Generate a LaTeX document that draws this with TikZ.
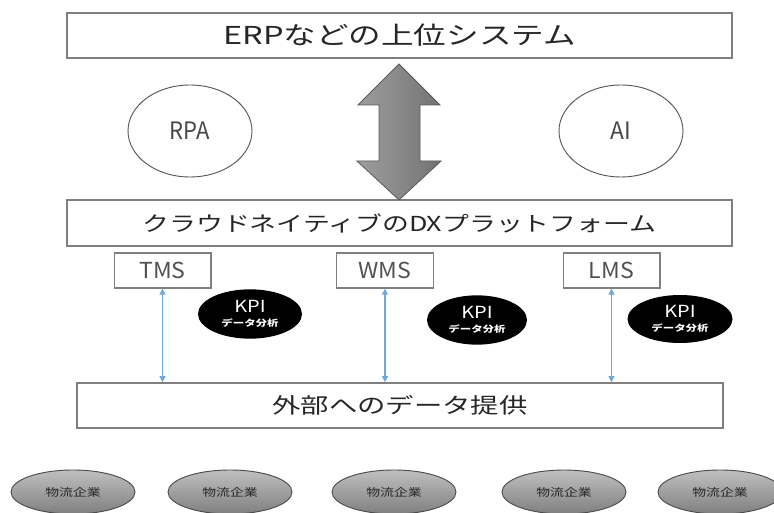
\documentclass[tikz,border=0pt]{standalone}
\usepackage{graphicx}
\usepackage{fontspec}
\setmainfont{Noto Sans CJK JP}
\usetikzlibrary{arrows.meta,shapes.geometric}
\definecolor{boxline}{HTML}{7F7F7F}
\definecolor{txt}{HTML}{262626}
\definecolor{linkblue}{HTML}{6FA8DC}
\newcommand{\sx}[2]{\scalebox{#1}[1]{#2}}
\tikzset{
  bigbox/.style={draw=boxline, line width=1.2pt, fill=white, inner sep=0pt, text=txt},
  sysbox/.style={draw=boxline, line width=1pt, fill=white, inner sep=0pt, minimum width=72.5pt, minimum height=26.25pt, text=txt!80, font=\fontsize{16.5}{16.5}\selectfont},
  toolell/.style={ellipse, draw=black!65, line width=0.7pt, fill=white, inner sep=0pt, minimum width=93pt, minimum height=69pt, text=txt!85, font=\fontsize{18}{18}\selectfont},
  kpiell/.style={ellipse, fill=black, inner sep=0pt, minimum height=37pt, text=white, align=center},
  firm/.style={ellipse, draw=black!70, line width=0.7pt, top color=black!25, bottom color=black!50, inner sep=0pt, minimum width=93pt, minimum height=33pt, text=txt, font=\fontsize{8}{8}\selectfont},
  link/.style={linkblue, line width=0.8pt, {Triangle[length=4.5pt,width=4.5pt]}-{Triangle[length=4.5pt,width=4.5pt]}}
}
\begin{document}
\begin{tikzpicture}[x=0.75pt,y=-0.75pt]
\useasboundingbox (0,0) rectangle (774,513);
\clip (0,0) rectangle (774,513);
\fill[white] (0,0) rectangle (774,513);

% top and platform boxes
\node[bigbox, minimum width=498.75pt, minimum height=33.75pt, font=\fontsize{18.5}{18.5}\selectfont] (erp) at (399.5,35.5) {\sx{1.32}{ERPなどの上位システム}};
\node[bigbox, minimum width=498.75pt, minimum height=34.5pt, font=\fontsize{15.5}{15.5}\selectfont] (dx) at (399.5,223) {\sx{1.3}{クラウドネイティブのDXプラットフォーム}};

% RPA and AI
\node[toolell] (rpa) at (190,131) {\sx{0.92}{RPA}};
\node[toolell] (ai) at (621,131) {\sx{0.95}{AI}};

% big double arrow
\coordinate (tipT) at (399,64);
\coordinate (tipB) at (399,200);
\path[draw=black!65, line width=0.6pt, left color=black!38, right color=black!55]
  (tipT) -- (440,105) -- (420,105) -- (420,161) -- (441,161) -- (tipB)
  -- (357,161) -- (379,161) -- (379,105) -- (358,105) -- cycle;

% system boxes
\node[sysbox] (tms) at (162.5,270.5) {\sx{1.05}{TMS}};
\node[sysbox] (wms) at (385,270.5) {\sx{1.05}{WMS}};
\node[sysbox] (lms) at (611.5,270.5) {\sx{1.05}{LMS}};

% KPI ellipses
\node[kpiell, minimum width=78pt] (kpi1) at (250,314) {\fontsize{12.5}{12.5}\selectfont\sx{1.2}{KPI}\\[-1.5pt]\fontsize{6.6}{7}\selectfont\bfseries\sx{1.3}{データ分析}};
\node[kpiell, minimum width=75pt] (kpi2) at (477,320) {\fontsize{12.5}{12.5}\selectfont\sx{1.2}{KPI}\\[-1.5pt]\fontsize{6.6}{7}\selectfont\bfseries\sx{1.3}{データ分析}};
\node[kpiell, minimum width=78.75pt, minimum height=36pt] (kpi3) at (680,319) {\fontsize{12.5}{12.5}\selectfont\sx{1.2}{KPI}\\[-1.5pt]\fontsize{6.6}{7}\selectfont\bfseries\sx{1.3}{データ分析}};

% external data box
\node[bigbox, minimum width=484.5pt, minimum height=33.75pt, font=\fontsize{16}{16}\selectfont] (ext) at (400,405.5) {\sx{1.33}{外部へのデータ提供}};

% links
\draw[link] (tms.south) -- (tms.south |- ext.north);
\draw[link] (wms.south) -- (wms.south |- ext.north);
\draw[link] (lms.south) -- (lms.south |- ext.north);

% logistics companies
\node[firm] (f1) at (73,492) {\sx{1.3}{物流企業}};
\node[firm] (f2) at (230,492) {\sx{1.3}{物流企業}};
\node[firm] (f3) at (394,492) {\sx{1.3}{物流企業}};
\node[firm] (f4) at (564,492) {\sx{1.3}{物流企業}};
\node[firm] (f5) at (720,492) {\sx{1.3}{物流企業}};
\end{tikzpicture}
\end{document}
